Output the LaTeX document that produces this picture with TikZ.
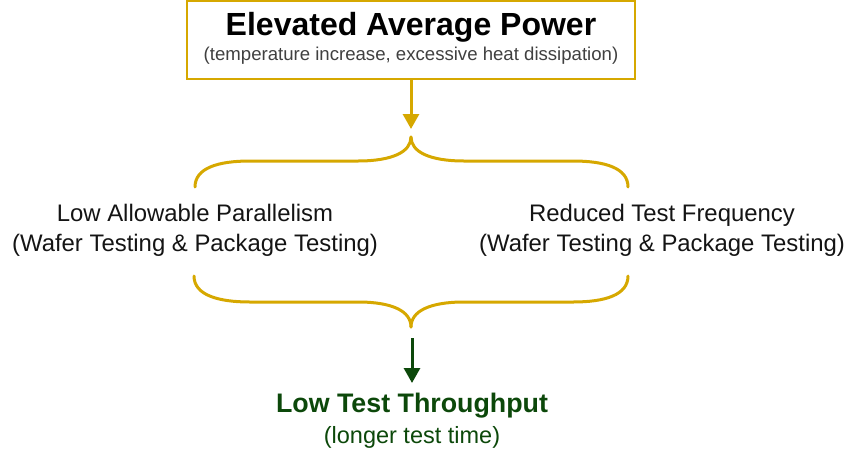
\documentclass[tikz,border=0pt]{standalone}
\usepackage{fontspec}
\setmainfont{Liberation Sans}
\usetikzlibrary{arrows.meta}
\definecolor{gold}{RGB}{214,168,0}
\definecolor{dgreen}{RGB}{12,72,10}
\definecolor{txt}{RGB}{20,20,20}
\begin{document}
\begin{tikzpicture}[x=1pt,y=-1pt,
  goldline/.style={draw=gold,line width=3pt},
  goldarrow/.style={draw=gold,line width=3pt,-{Triangle[length=15pt,width=16pt]}},
  greenarrow/.style={draw=dgreen,line width=3pt,-{Triangle[length=15pt,width=16pt]}},
  midtext/.style={align=center,font=\fontsize{23.9}{30}\selectfont,text=txt,inner sep=0pt}]
\useasboundingbox (0,0) rectangle (851,450);
\node[draw=gold,line width=2pt,minimum width=448pt,minimum height=78pt,inner sep=0pt] (top) at (411,40) {};
\node[font=\bfseries\fontsize{32}{36}\selectfont,inner sep=0pt] (title) at (411,27) {Elevated Average Power};
\node[font=\fontsize{18.6}{22}\selectfont,text=black!75,inner sep=0pt] (sub) at (411,56) {(temperature increase, excessive heat dissipation)};
\coordinate (tipA) at (411,129);
\coordinate (braceA) at (411,137);
\draw[goldarrow] (top.south) -- (tipA);
\draw[goldline,line cap=round] (195,187) .. controls (195,168) and (218,161) .. (250,161) -- (358,161) .. controls (392,161) and (411,152) .. (braceA);
\draw[goldline,line cap=round] (628,187) .. controls (628,168) and (605,161) .. (573,161) -- (464,161) .. controls (430,161) and (411,152) .. (braceA);
\node[midtext] (left) at (195,230) {Low Allowable Parallelism\\(Wafer Testing \& Package Testing)};
\node[midtext] (right) at (662,230) {Reduced Test Frequency\\(Wafer Testing \& Package Testing)};
\coordinate (braceB) at (411,327);
\draw[goldline,line cap=round] (194,276) .. controls (194,295) and (218,302) .. (250,302) -- (358,302) .. controls (392,302) and (411,311) .. (braceB);
\draw[goldline,line cap=round] (628,276) .. controls (628,295) and (605,302) .. (573,302) -- (464,302) .. controls (430,302) and (411,311) .. (braceB);
\coordinate (gstart) at (412,338);
\coordinate (gend) at (412,383);
\node[font=\bfseries\fontsize{26.8}{30}\selectfont,text=dgreen,inner sep=0pt] (res) at (412,406) {Low Test Throughput};
\node[font=\fontsize{23.5}{28}\selectfont,text=dgreen,inner sep=0pt] (ressub) at (412,437) {(longer test time)};
\draw[greenarrow] (gstart) -- (gend);
\end{tikzpicture}
\end{document}
